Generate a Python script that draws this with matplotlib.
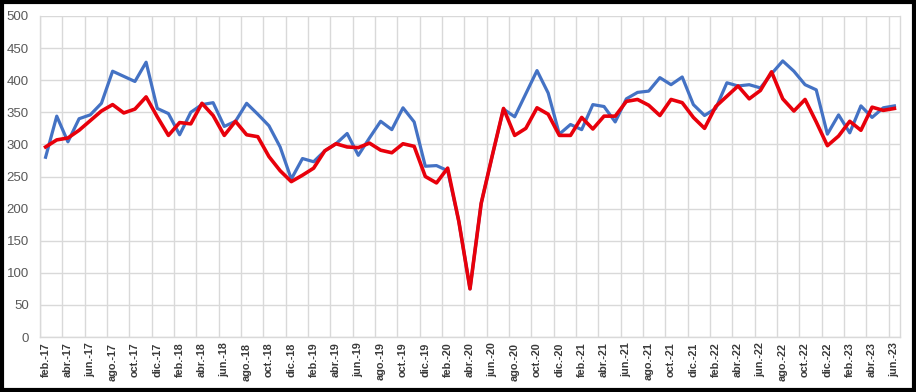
import matplotlib.pyplot as plt
from matplotlib.patches import Rectangle
import numpy as np

# monthly series feb-17 .. jun-23
meses = ['ene', 'feb', 'mar', 'abr', 'may', 'jun', 'jul', 'ago', 'sep', 'oct', 'nov', 'dic']
labels = []
for k in range(77):
    m = (1 + k) % 12
    y = 17 + (1 + k) // 12
    labels.append(meses[m] + '.-' + str(y))

blue = [280, 344, 304, 340, 346, 364, 414, 406, 398, 428,
        356, 348, 315, 350, 362, 365, 328, 336, 364, 347,
        329, 296, 246, 278, 273, 290, 301, 317, 283, 310,
        336, 323, 357, 335, 266, 267, 259, 180, 75, 208,
        283, 355, 343, 379, 415, 380, 316, 331, 323, 362,
        359, 335, 371, 381, 383, 404, 393, 405, 362, 345,
        356, 396, 391, 393, 388, 410, 430, 414, 393, 385,
        316, 346, 318, 360, 342, 357, 360]
red = [296, 307, 310, 322, 337, 352, 362, 349, 355, 374,
       343, 314, 334, 332, 364, 345, 314, 336, 315, 312,
       281, 259, 242, 252, 263, 290, 301, 296, 295, 302,
       291, 287, 301, 297, 250, 240, 263, 180, 75, 208,
       283, 356, 314, 325, 357, 347, 314, 314, 342, 324,
       344, 344, 367, 370, 361, 345, 370, 365, 342, 325,
       359, 375, 391, 371, 384, 413, 371, 352, 370, 335,
       298, 313, 336, 322, 358, 353, 356]

x = np.arange(len(labels))

fig = plt.figure(figsize=(9.16, 3.92), dpi=100)
ax = fig.add_axes([40 / 916, 1 - 337 / 392, 860 / 916, 321 / 392])

ax.plot(x, blue, color='#4472C4', linewidth=2.3, solid_joinstyle='round', zorder=3)
ax.plot(x, red, color='#E8000B', linewidth=2.6, solid_joinstyle='round', zorder=4)

ax.set_xlim(-0.5, len(labels) - 0.5)
ax.set_ylim(0, 500)
ax.set_yticks(np.arange(0, 501, 50))
ax.set_xticks(x[::2])
ax.set_xticklabels(labels[::2], rotation=90, fontsize=7.8, fontweight='bold',
                   family='Liberation Sans', color='#3A3A3A')
ax.set_xticks(np.arange(-0.5, len(labels), 2), minor=True)
ax.tick_params(axis='x', which='both', length=0, pad=4)
ax.tick_params(axis='y', length=0, labelsize=9.5, labelcolor='#595959', pad=8)
for t in ax.get_yticklabels():
    t.set_family('Liberation Sans')

ax.grid(axis='y', color='#D9D9D9', linewidth=1)
ax.grid(axis='x', which='minor', color='#D9D9D9', linewidth=1)
ax.grid(axis='x', which='major', visible=False)
ax.set_axisbelow(True)
for s in ax.spines.values():
    s.set_color('#D9D9D9')
    s.set_linewidth(1)
ax.spines['top'].set_visible(False)

fig.patches.append(Rectangle((0.002, 0.004), 0.996, 0.992, transform=fig.transFigure,
                             fill=False, edgecolor='black', linewidth=3))

plt.savefig('out.png', dpi=100)
